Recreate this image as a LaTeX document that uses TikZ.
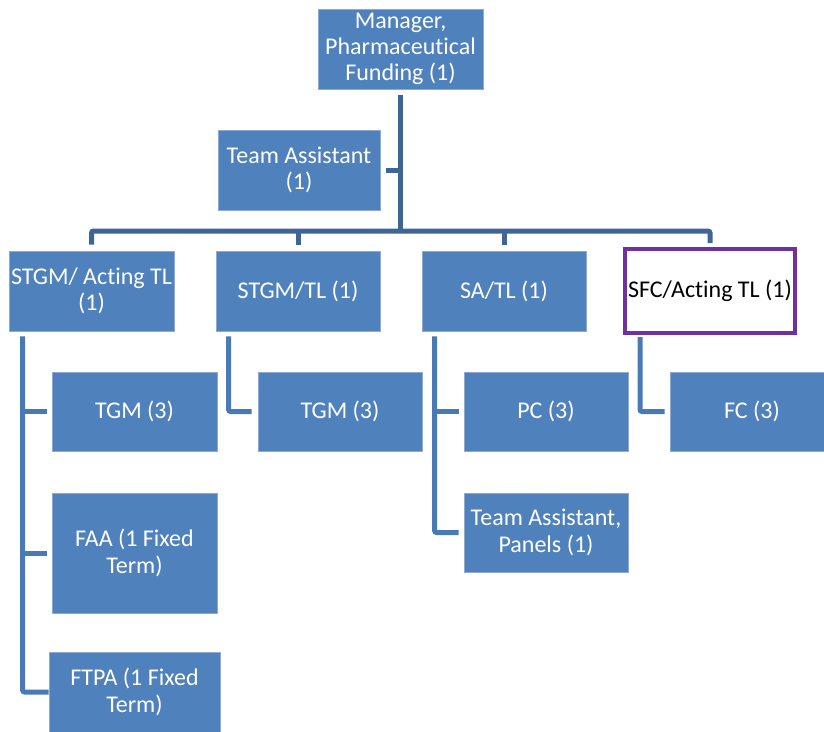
\documentclass[tikz,border=0pt]{standalone}
\usepackage{fontspec}
\setmainfont{Carlito}[Ligatures=NoCommon]
\usetikzlibrary{calc}
\definecolor{boxblue}{HTML}{4F81BD}
\definecolor{topline}{HTML}{3F6597}
\definecolor{lowline}{HTML}{4A7AB5}
\definecolor{boxedge}{HTML}{8EAAD3}
\definecolor{purp}{HTML}{7030A0}
\begin{document}
\begin{tikzpicture}[x=1pt,y=-1pt,
  box/.style={rectangle, fill=boxblue, draw=boxedge, line width=0.8pt, inner sep=0pt,
    align=center, text=white, font=\fontsize{24}{26.3}\selectfont,
    minimum width=165pt, minimum height=80pt},
  hilite/.style={box, fill=white, draw=purp, line width=4pt, text=black,
    minimum width=170pt, minimum height=84pt},
  topconn/.style={draw=topline, line width=5pt, rounded corners=2pt},
  lowconn/.style={draw=lowline, line width=5pt, rounded corners=2pt}]
\useasboundingbox (0,0) rectangle (824,731);

% boxes
\node[box] (m) at (400.5,49) {Manager,\\Pharmaceutical\\Funding (1)};
\node[box, minimum width=162pt] (ta) at (299,170) {Team Assistant\\(1)};
\node[box] (s1) at (91.5,291) {STGM/ Acting TL\\(1)};
\node[box, minimum width=164pt] (s2) at (298,291) {STGM/TL (1)};
\node[box, minimum width=164pt] (s3) at (504,291) {SA/TL (1)};
\node[hilite] (s4) at (710,291) {SFC/Acting TL (1)};
\node[box, minimum height=79pt] (t1) at (134.5,411.5) {TGM (3)};
\node[box, minimum width=164pt, minimum height=79pt] (t2) at (340,411.5) {TGM (3)};
\node[box, minimum width=164pt, minimum height=79pt] (pc) at (546,411.5) {PC (3)};
\node[box, minimum width=164pt, minimum height=79pt] (fc) at (752,411.5) {FC (3)};
\node[box, minimum height=120pt] (faa) at (134.5,553) {FAA (1 Fixed\\Term)};
\node[box, minimum width=171pt] (ftpa) at (134.5,692) {FTPA (1 Fixed\\Term)};
\node[box, minimum width=164pt, minimum height=79pt] (tap) at (546,532.5) {Team Assistant,\\Panels (1)};

% top connectors
\coordinate (hub) at (400.5,231);
\draw[topconn] ($(m.south)+(0,6)$) -- (hub);
\draw[topconn] ($(ta.east)+(6,0)$) -- (ta.east -| hub);
\draw[topconn] ($(s1.north)+(0,-6)$) |- (hub) -| ($(s4.north)+(0,-4)$);
\draw[topconn] ($(s2.north)+(0,-6)$) -- (s2.north |- hub);
\draw[topconn] ($(s3.north)+(0,-6)$) -- (s3.north |- hub);

% lower connectors
\coordinate (v1) at ($(s1.south west)+(14,5)$);
\coordinate (v2) at ($(s2.south west)+(13,5)$);
\coordinate (v3) at ($(s3.south west)+(13,5)$);
\coordinate (v4) at ($(s4.south west)+(17,2)$);
\draw[lowconn] (v1) |- (ftpa.west);
\draw[lowconn] (t1.west -| v1) -- ($(t1.west)+(-5,0)$);
\draw[lowconn] (faa.west -| v1) -- ($(faa.west)+(-5,0)$);
\draw[lowconn] (v2) |- ($(t2.west)+(-6,0)$);
\draw[lowconn] (v3) |- ($(tap.west)+(-5,0)$);
\draw[lowconn] (pc.west -| v3) -- ($(pc.west)+(-5,0)$);
\draw[lowconn] (v4) |- ($(fc.west)+(-5,0)$);
\end{tikzpicture}
\end{document}
